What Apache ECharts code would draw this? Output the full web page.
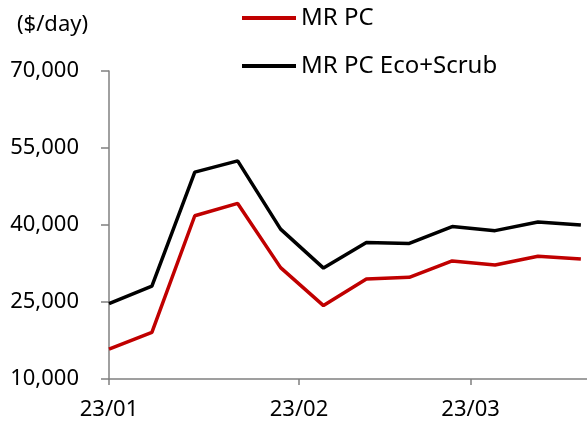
<!DOCTYPE html>
<html>
<head>
<meta charset="utf-8">
<script src="https://cdn.jsdelivr.net/npm/echarts@6/dist/echarts.min.js"></script>
<style>
  html, body { margin: 0; padding: 0; background: #fff; }
  #main { width: 587px; height: 428px; }
</style>
</head>
<body>
<div id="main"></div>
<script>
// 주간 데이터 (weekly)
var dates = ['2023-01-01', '2023-01-08', '2023-01-15', '2023-01-22', '2023-01-29', '2023-02-05',
  '2023-02-12', '2023-02-19', '2023-02-26', '2023-03-05', '2023-03-12', '2023-03-19']
var mrPc = [15800, 19100, 41800, 44200, 31700, 24300, 29500, 29800, 33000, 32200, 33900, 33400]
var mrPcEco = [24700, 28100, 50300, 52500, 39200, 31600, 36600, 36400, 39700, 38900, 40600, 40000]

// x축 눈금
var tickDates = ['2023-01-01', '2023-02-01', '2023-03-01']
var tickLabels = ['23/01', '23/02', '23/03']

var font = 'Noto Sans'
var DAY = 86400000

// 날짜 -> 1월 1일부터의 일수
function toDay(s) {
  var p = s.split('-')
  return Math.round((Date.UTC(+p[0], +p[1] - 1, +p[2]) - Date.UTC(2023, 0, 1)) / DAY)
}
var tickDays = tickDates.map(toDay)

var myChart = echarts.init(document.getElementById('main'))
myChart.setOption({
  animation: false,
  title: {
    text: '($/day)',
    left: 12,
    top: 9,
    textStyle: { fontFamily: font, fontSize: 22, fontWeight: 'normal', color: '#000' }
  },
  legend: {
    orient: 'vertical',
    left: 237,
    top: 1,
    itemWidth: 54,
    itemHeight: 4,
    itemGap: 24,
    icon: 'rect',
    textStyle: { fontFamily: font, fontSize: 24, color: '#000' },
    data: ['MR PC', 'MR PC Eco+Scrub']
  },
  grid: {
    left: 109,
    right: 0,
    top: 71,
    bottom: 49,
    containLabel: false
  },
  xAxis: {
    type: 'value',
    min: 0,
    max: toDay('2023-03-20'),
    axisLine: { lineStyle: { color: '#808080', width: 1.5 } },
    axisTick: { show: true, length: 6, customValues: tickDays, lineStyle: { color: '#808080', width: 1.5 } },
    axisLabel: {
      customValues: tickDays,
      margin: 20,
      fontFamily: font,
      fontSize: 22,
      color: '#000',
      formatter: function (v) {
        var i = tickDays.indexOf(v)
        return i >= 0 ? tickLabels[i] : ''
      }
    },
    splitLine: { show: false }
  },
  yAxis: {
    type: 'value',
    min: 10000,
    max: 70000,
    interval: 15000,
    axisLine: { show: true, lineStyle: { color: '#808080', width: 1.5 } },
    axisTick: { show: true, length: 8, lineStyle: { color: '#808080', width: 1.5 } },
    axisLabel: {
      margin: 30,
      fontFamily: font,
      fontSize: 22,
      color: '#000',
      formatter: function (v) { return v.toLocaleString('en-US') }
    },
    splitLine: { show: false }
  },
  series: [
    {
      name: 'MR PC',
      type: 'line',
      showSymbol: false,
      color: '#C00000',
      lineStyle: { width: 3.5, color: '#C00000' },
      data: dates.map(function (d, i) { return [toDay(d), mrPc[i]] })
    },
    {
      name: 'MR PC Eco+Scrub',
      type: 'line',
      showSymbol: false,
      color: '#000000',
      lineStyle: { width: 3.5, color: '#000000' },
      data: dates.map(function (d, i) { return [toDay(d), mrPcEco[i]] })
    }
  ]
})
</script>
</body>
</html>
